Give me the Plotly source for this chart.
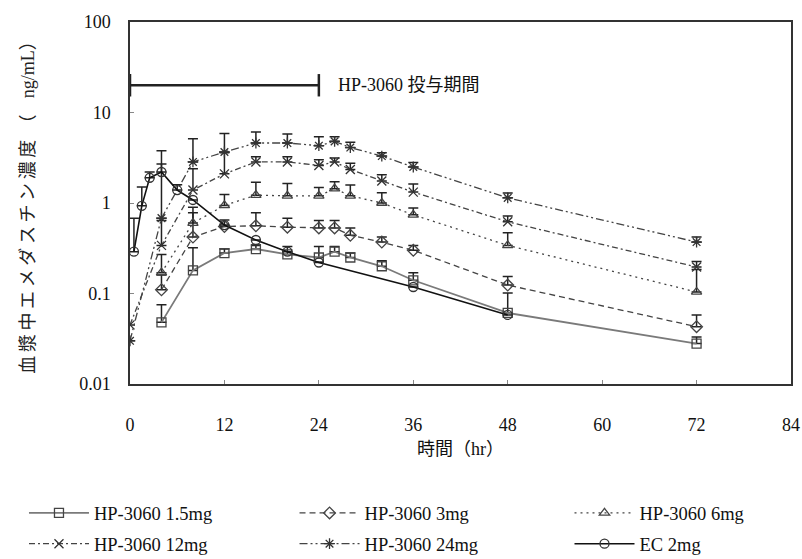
import plotly.graph_objects as go

# ---- data ----
t_hp = [4, 8, 12, 16, 20, 24, 26, 28, 32, 36, 48, 72]
t_hp0 = [0, 4, 8, 12, 16, 20, 24, 26, 28, 32, 36, 48, 72]

hp_1_5 = [0.048, 0.18, 0.28, 0.31, 0.27, 0.25, 0.29, 0.25, 0.20, 0.14, 0.061, 0.028]
hp_1_5_err = [0.027, 0.14, 0.03, 0.03, 0.06, 0.08, 0.04, 0.03, 0.03, 0.03, 0.04, 0.005]

hp_3 = [0.11, 0.42, 0.55, 0.56, 0.54, 0.53, 0.53, 0.44, 0.37, 0.30, 0.124, 0.043]
hp_3_err = [0.05, 0.36, 0.10, 0.22, 0.14, 0.11, 0.11, 0.09, 0.05, 0.04, 0.03, 0.015]

hp_6 = [0.17, 0.60, 0.94, 1.22, 1.20, 1.20, 1.44, 1.20, 1.00, 0.74, 0.34, 0.104]
hp_6_err = [0.10, 0.30, 0.30, 0.48, 0.44, 0.28, 0.28, 0.38, 0.30, 0.14, 0.13, 0.08]

hp_12 = [0.045, 0.34, 1.39, 2.1, 2.84, 2.84, 2.6, 2.84, 2.35, 1.75, 1.32, 0.62, 0.196]
hp_12_err = [0.0, 0.3, 1.0, 1.5, 0.4, 0.4, 0.4, 0.3, 0.4, 0.3, 0.3, 0.1, 0.03]

hp_24 = [0.030, 0.68, 2.84, 3.66, 4.6, 4.6, 4.3, 4.8, 4.1, 3.3, 2.5, 1.14, 0.37]
hp_24_err = [0.0, 3.1, 2.3, 2.2, 1.5, 1.2, 1.1, 0.6, 0.6, 0.3, 0.3, 0.15, 0.05]

t_ec = [0.5, 1.5, 2.5, 4, 6, 8, 12, 16, 20, 24, 36, 48]
ec_2 = [0.29, 0.93, 1.9, 2.2, 1.39, 1.08, 0.57, 0.39, 0.29, 0.22, 0.118, 0.058]
ec_2_err = [0.39, 0.57, 0.3, 0.5, 0.2, 0, 0, 0, 0, 0, 0, 0]

dose_period = [0, 24]
dose_level = [20, 20]

x_ticks = [0, 12, 24, 36, 48, 60, 72, 84]
y_ticks = [0.01, 0.1, 1, 10, 100]
y_tick_text = ["0.01", "0.1", "1", "10", "100"]

SERIF = "Liberation Serif, Times New Roman, serif"
CJK = "Liberation Serif, Noto Sans CJK JP, serif"

y_title = "\u2009".join("血漿中エメダスチン濃度") + "\u2009\u2009（\u2009\u2009  ng/mL）"

fig = go.Figure()

def add(name, x, y, err, symbol, dash, lcolor, mcolor, legend, lwidth=1.3):
    fig.add_trace(go.Scatter(
        x=x, y=y, name=name, mode="lines+markers", legend=legend,
        line=dict(color=lcolor, width=lwidth, dash=dash),
        marker=dict(symbol=symbol, size=9, color=mcolor,
                    line=dict(color=mcolor, width=1.3)),
        error_y=dict(type="data", symmetric=False, array=err,
                     arrayminus=[0] * len(err), color="#222",
                     thickness=1.5, width=5),
    ))

add("HP-3060 1.5mg", t_hp, hp_1_5, hp_1_5_err, "square-open", "solid", "#7a7a7a", "#444", "legend", 1.8)
add("HP-3060 3mg", t_hp, hp_3, hp_3_err, "diamond-open", "6px,4px", "#444", "#444", "legend2")
add("HP-3060 6mg", t_hp, hp_6, hp_6_err, "triangle-up-open", "2px,4px", "#444", "#444", "legend3")
add("HP-3060 12mg", t_hp0, hp_12, hp_12_err, "x-thin-open", "6px,3px,2px,3px", "#444", "#333", "legend4")
add("HP-3060 24mg", t_hp0, hp_24, hp_24_err, "asterisk-open", "8px,3px,2px,3px,2px,3px", "#444", "#333", "legend5")
add("EC 2mg", t_ec, ec_2, ec_2_err, "circle-open", "solid", "#111", "#333", "legend6", 1.6)

# dosing period bar
fig.add_trace(go.Scatter(
    x=dose_period, y=dose_level, mode="lines+markers", showlegend=False,
    line=dict(color="#222", width=2.5),
    marker=dict(symbol="line-ns-open", size=16, line=dict(color="#222", width=2.5)),
    hoverinfo="skip",
))
fig.add_annotation(x=26.2, y=1.301, xref="x", yref="y", text="HP-3060 投与期間",
                   showarrow=False, xanchor="left", yanchor="middle",
                   font=dict(family=CJK, size=18, color="#111"))

fig.update_xaxes(range=[0, 84], tickvals=x_ticks, ticks="inside", ticklen=4,
                 tickcolor="#888", showline=True, linecolor="#333", linewidth=1.5,
                 mirror=True, showgrid=False, zeroline=False,
                 ticklabelstandoff=24,
                 tickfont=dict(family=SERIF, size=18, color="#111"),
                 title=dict(text="時間（hr）", font=dict(family=CJK, size=18, color="#111"),
                            standoff=8))
fig.update_yaxes(type="log", range=[-2, 2], tickvals=y_ticks, ticktext=y_tick_text,
                 ticks="inside", ticklen=4, tickcolor="#888",
                 showline=True, linecolor="#333", linewidth=1.5, mirror=True,
                 showgrid=False, zeroline=False, ticklabelstandoff=14,
                 tickfont=dict(family=SERIF, size=18, color="#111"),
                 title=dict(text=y_title,
                            font=dict(family=CJK, size=18, color="#222"), standoff=40))

leg_common = dict(orientation="v", yanchor="top", xanchor="left",
                  itemwidth=60, font=dict(family=SERIF, size=18.5, color="#111"),
                  bgcolor="rgba(0,0,0,0)", tracegroupgap=0)
col_x = [-0.1604, 0.2489, 0.6649]
row_y = [-0.305, -0.39]

fig.update_layout(
    width=802, height=559,
    margin=dict(l=130, r=11, t=22, b=175, autoexpand=False),
    paper_bgcolor="white", plot_bgcolor="white",
    showlegend=True,
    legend=dict(x=col_x[0], y=row_y[0], **leg_common),
    legend2=dict(x=col_x[1], y=row_y[0], **leg_common),
    legend3=dict(x=col_x[2], y=row_y[0], **leg_common),
    legend4=dict(x=col_x[0], y=row_y[1], **leg_common),
    legend5=dict(x=col_x[1], y=row_y[1], **leg_common),
    legend6=dict(x=col_x[2], y=row_y[1], **leg_common),
)

fig.write_html("out.html", config={"displayModeBar": False},
               post_script="document.body.style.margin='0';")
